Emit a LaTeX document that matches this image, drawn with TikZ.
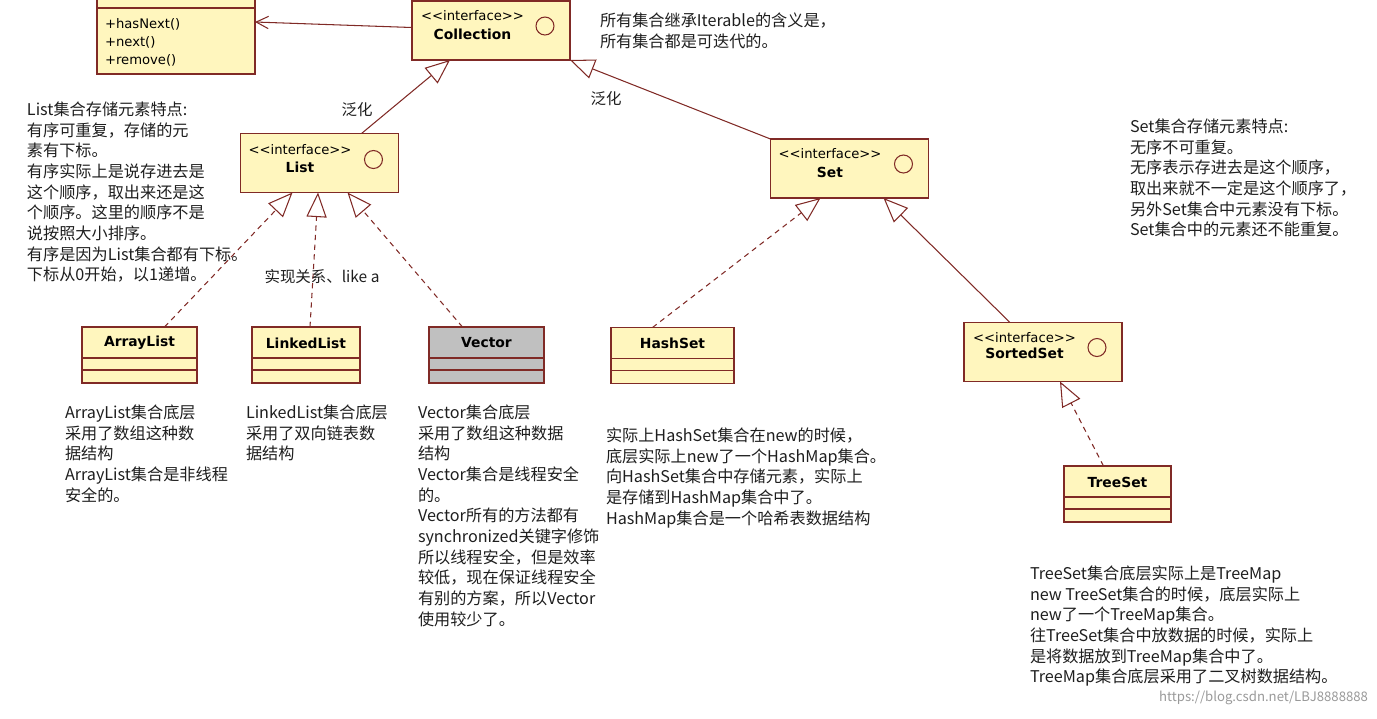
\documentclass[tikz,border=0pt]{standalone}
\usepackage{fontspec}
\setmainfont{Noto Sans CJK SC}
\newfontfamily\umlfont{DejaVu Sans}
\usetikzlibrary{arrows.meta,calc,positioning}
\definecolor{boxfill}{RGB}{255,246,190}
\definecolor{boxline}{RGB}{128,42,38}
\definecolor{vecgray}{RGB}{192,192,192}
\definecolor{notetext}{RGB}{30,30,30}

\begin{document}
\begin{tikzpicture}[x=0.02cm, y=-0.02cm,
  every node/.style={inner sep=0pt, outer sep=0pt},
  umlbox/.style={draw=boxline, fill=boxfill, line width=0.8pt, minimum height=1.12cm},
  iface/.style={umlbox, minimum width=3.16cm, minimum height=1.18cm},
  stereo/.style={font=\umlfont\fontsize{7.5}{10.5}\selectfont, anchor=west},
  cname/.style={font=\umlfont\bfseries\fontsize{7.9}{9}\selectfont},
  ball/.style={draw=boxline, line width=0.6pt, circle, minimum size=0.36cm},
  note/.style={font=\fontsize{9.2}{11.75}\selectfont, text=notetext, align=left, anchor=north west},
  lbl/.style={font=\fontsize{8.8}{10}\selectfont, text=notetext},
  gen/.style={draw=boxline, line width=0.6pt, -{Triangle[open, length=14pt, width=11.5pt, fill=white]}},
  real/.style={gen, dash pattern=on 3pt off 2.5pt},
  assoc/.style={draw=boxline, line width=0.6pt, -{Straight Barb[length=7pt, width=7pt]}}
]
\useasboundingbox (0,0) rectangle (1377,718);
\clip (0,0) rectangle (1377,718);

% Iterator, cut off at the top
\node[umlbox, minimum width=3.16cm, minimum height=1.88cm] (iter) at (176,27) {};
\draw[boxline, line width=0.8pt] ($(iter.north west)+(0,28)$) -- ($(iter.north east)+(0,28)$);
\node[stereo, anchor=north west, align=left] (itermeth) at (105,18) {+hasNext()\\+next()\\+remove()};

% interfaces
\node[iface] (col) at (491,30.5) {};
\node[stereo] (colst) at ($(col.north west)+(9,15)$) {<{}<interface>{}>};
\node[cname] (colname) at ($(colst.center)+(0,18)$) {Collection};
\node[ball] (colball) at ($(col.north east)+(-25,25)$) {};

\node[iface] (list) at (319.5,163) {};
\node[stereo] (listst) at ($(list.north west)+(8,16)$) {<{}<interface>{}>};
\node[cname] (listname) at ($(listst.center)+(0,18)$) {List};
\node[ball] (listball) at ($(list.north east)+(-25,26)$) {};

\node[iface] (set) at (849.5,168.5) {};
\node[stereo] (setst) at ($(set.north west)+(8,15)$) {<{}<interface>{}>};
\node[cname] (setname) at ($(setst.center)+(0,18)$) {Set};
\node[ball] (setball) at ($(set.north east)+(-25,25)$) {};

\node[iface] (ss) at (1043,352) {};
\node[stereo] (ssst) at ($(ss.north west)+(9,15)$) {<{}<interface>{}>};
\node[cname] (ssname) at ($(ssst.center)+(0,16)$) {SortedSet};
\node[ball] (ssball) at ($(ss.north east)+(-25,25)$) {};

% classes
\node[umlbox, minimum width=2.3cm] (al) at (139.5,355) {};
\node[cname] (alname) at ($(al.north)+(0,16)$) {ArrayList};
\node[umlbox, minimum width=2.16cm] (ll) at (306,355) {};
\node[cname] (llname) at ($(ll.north)+(0,16)$) {LinkedList};
\node[umlbox, minimum width=2.3cm, fill=vecgray] (vec) at (486.5,355) {};
\node[cname] (vecname) at ($(vec.north)+(0,16)$) {Vector};
\node[umlbox, minimum width=2.46cm] (hs) at (672.5,355.5) {};
\node[cname] (hsname) at ($(hs.north)+(0,16)$) {HashSet};
\node[umlbox, minimum width=2.14cm] (ts) at (1117.5,494) {};
\node[cname] (tsname) at ($(ts.north)+(0,16)$) {TreeSet};
\foreach \b in {al,ll,vec,hs,ts} {
  \draw[boxline, line width=0.8pt] ($(\b.north west)+(0,31)$) -- ($(\b.north east)+(0,31)$);
  \draw[boxline, line width=0.8pt] ($(\b.north west)+(0,43)$) -- ($(\b.north east)+(0,43)$);
}

% connectors
\draw[assoc] ($(col.west)+(0,-3)$) -- ($(iter.east)+(0,-5)$);
\draw[gen] ($(list.north)+(42,0)$) -- ($(col.south)+(-41,0)$);
\draw[gen] (set.north west) -- (col.south east);
\draw[real] ($(al.north)+(25,0)$) -- ($(list.south)+(-27,0)$);
\draw[real] ($(ll.north)+(4,0)$) -- ($(list.south)+(-1.5,0)$);
\draw[real] ($(vec.north)+(-24,0)$) -- ($(list.south)+(28,0)$);
\draw[real] ($(hs.north)+(-20,0)$) -- ($(set.south)+(-29,0)$);
\draw[gen] ($(ss.north)+(-33,0)$) -- ($(set.south)+(34,0)$);
\draw[real] ($(ts.north)+(-14,0)$) -- ($(ss.south)+(17,0)$);

\node[lbl] (gen1) at (357,110) {泛化};
\node[lbl] (gen2) at (606,99) {泛化};
\node[lbl] (impl) at (322,277) {实现关系、like a};

% notes
\node[note] (colnote) at (600,13) {所有集合继承Iterable的含义是，\\所有集合都是可迭代的。};
\node[note] (listnote) at (27,102) {List集合存储元素特点:\\有序可重复，存储的元\\素有下标。\\有序实际上是说存进去是\\这个顺序，取出来还是这\\个顺序。这里的顺序不是\\说按照大小排序。\\有序是因为List集合都有下标。\\下标从0开始，以1递增。};
\node[note] (setnote) at (1130,119) {Set集合存储元素特点:\\无序不可重复。\\无序表示存进去是这个顺序，\\取出来就不一定是这个顺序了，\\另外Set集合中元素没有下标。\\Set集合中的元素还不能重复。};
\node[note] (alnote) at (65,405) {ArrayList集合底层\\采用了数组这种数\\据结构\\ArrayList集合是非线程\\安全的。};
\node[note] (llnote) at (246,405) {LinkedList集合底层\\采用了双向链表数\\据结构};
\node[note] (vecnote) at (418,405) {Vector集合底层\\采用了数组这种数据\\结构\\Vector集合是线程安全\\的。\\Vector所有的方法都有\\synchronized关键字修饰\\所以线程安全，但是效率\\较低，现在保证线程安全\\有别的方案，所以Vector\\使用较少了。};
\node[note] (hsnote) at (606,428) {实际上HashSet集合在new的时候，\\底层实际上new了一个HashMap集合。\\向HashSet集合中存储元素，实际上\\是存储到HashMap集合中了。\\HashMap集合是一个哈希表数据结构};
\node[note] (tsnote) at (1030,566) {TreeSet集合底层实际上是TreeMap\\new TreeSet集合的时候，底层实际上\\new了一个TreeMap集合。\\往TreeSet集合中放数据的时候，实际上\\是将数据放到TreeMap集合中了。\\TreeMap集合底层采用了二叉树数据结构。};
\node[font=\fontsize{7.5}{9}\selectfont, text=black!40, anchor=east] (mark) at (1368,698) {https://blog.csdn.net/LBJ8888888};
\end{tikzpicture}
\end{document}
